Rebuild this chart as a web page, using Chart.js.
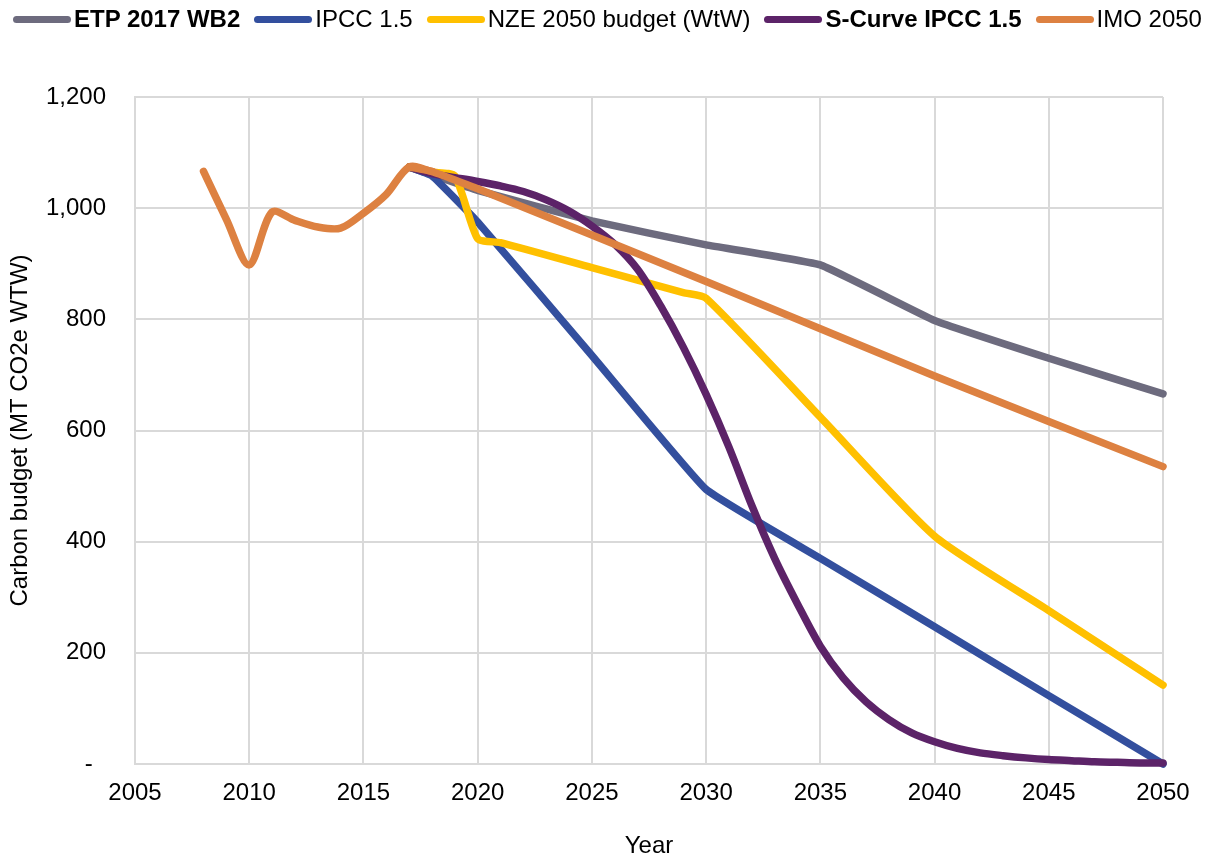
<!DOCTYPE html>
<html>
<head>
<meta charset="utf-8">
<title>Carbon budget</title>
<script src="https://cdn.jsdelivr.net/npm/chart.js@4/dist/chart.umd.min.js"></script>
<style>
  html, body { margin: 0; padding: 0; background: #fff; }
  #wrap { position: relative; width: 1214px; height: 861px; }
  #chart { position: absolute; left: 0; top: 0; }
  #legend {
    position: absolute; left: 13px; top: 1px; height: 36px;
    display: flex; align-items: center; gap: 14px;
    font-family: "Liberation Sans", Arial, sans-serif; font-size: 24px; color: #000;
    white-space: nowrap;
  }
  .item { display: flex; align-items: center; }
  .swatch { width: 58px; height: 7px; border-radius: 3.5px; margin-right: 3px; }
  .bold { font-weight: bold; }
</style>
</head>
<body>
<div id="wrap">
  <canvas id="chart" width="1214" height="861"></canvas>
  <div id="legend"></div>
</div>
<script>
  'use strict';

  // shared history 2008-2017 (same for every series)
  var histYears = [2008, 2009, 2010, 2011, 2012, 2013, 2014, 2015, 2016, 2017];
  var histValues = [1066, 980, 898, 993, 978, 966, 964, 991, 1025, 1074];

  var etpYears = [2018, 2020, 2025, 2030, 2035, 2040, 2045, 2050];
  var etpValues = [1060, 1032, 977, 934, 898, 798, 730, 666];

  var ipccYears = [2018, 2020, 2025, 2030, 2035, 2040, 2045, 2050];
  var ipccValues = [1058, 975, 735, 494, 370, 247, 123, 0];

  var nzeYears = [2018, 2019, 2020, 2021, 2025, 2029, 2030, 2035, 2040, 2045, 2050];
  var nzeValues = [1065, 1058, 945, 938, 893, 848, 838, 624, 410, 276, 142];

  var sYears = [2018, 2019, 2020, 2021, 2022, 2023, 2024, 2025, 2026, 2027, 2028, 2029, 2030,
    2031, 2032, 2033, 2034, 2035, 2036, 2037, 2038, 2039, 2040,
    2041, 2042, 2043, 2044, 2045, 2046, 2047, 2048, 2049, 2050];
  var sValues = [1062, 1055, 1048, 1040, 1030, 1015, 995, 968, 935, 890, 825, 750, 665,
    570, 465, 370, 288, 212, 155, 112, 80, 56, 40,
    28, 20, 15, 11, 8, 6, 4, 3, 2, 2];

  var imoYears = [2018, 2020, 2030, 2040, 2050];
  var imoValues = [1066, 1035, 868, 698, 535];

  var seriesNames = ['ETP 2017 WB2', 'IPCC 1.5', 'NZE 2050 budget (WtW)', 'S-Curve IPCC 1.5', 'IMO 2050'];
  var seriesColors = ['#6d6b7e', '#334f9e', '#ffc000', '#5c2368', '#dd8141'];
  var seriesBold = [true, false, false, true, false];
  var seriesTension = [0.1, 0.1, 0.2, 0.3, 0.1];

  var yTicks = [0, 200, 400, 600, 800, 1000, 1200];

  var FONT = '"Liberation Sans", Arial, sans-serif';
  var LINE_W = 7.5;

  function toPoints(xs, ys) {
    return xs.map(function (x, i) { return { x: x, y: ys[i] }; });
  }

  var allYears = [etpYears, ipccYears, nzeYears, sYears, imoYears];
  var allValues = [etpValues, ipccValues, nzeValues, sValues, imoValues];
  var lastHist = histYears.length - 1;

  // each series continues from the last common history year
  var datasets = seriesNames.map(function (name, i) {
    return {
      label: name,
      data: toPoints([histYears[lastHist]].concat(allYears[i]), [histValues[lastHist]].concat(allValues[i])),
      borderColor: seriesColors[i],
      borderWidth: LINE_W,
      borderCapStyle: 'round',
      borderJoinStyle: 'round',
      pointRadius: 0,
      tension: seriesTension[i],
      fill: false,
      clip: 8,
      order: seriesNames.length - i + 1
    };
  });

  // common history, drawn on top in the IMO colour (IMO is the top series),
  // carried one year into the IMO path so the 2017 peak stays rounded
  datasets.push({
    label: 'history',
    data: toPoints(histYears.concat(imoYears[0]), histValues.concat(imoValues[0])),
    borderColor: seriesColors[4],
    borderWidth: LINE_W,
    borderCapStyle: 'round',
    borderJoinStyle: 'round',
    pointRadius: 0,
    tension: 0.3,
    fill: false,
    clip: 8,
    order: 0
  });

  // legend
  var legend = document.getElementById('legend');
  seriesNames.forEach(function (name, i) {
    var item = document.createElement('div');
    item.className = 'item';
    var sw = document.createElement('span');
    sw.className = 'swatch';
    sw.style.background = seriesColors[i];
    var txt = document.createElement('span');
    txt.textContent = name;
    if (seriesBold[i]) txt.className = 'bold';
    item.appendChild(sw);
    item.appendChild(txt);
    legend.appendChild(item);
  });

  var gridColor = '#d9d9d9';

  new Chart(document.getElementById('chart'), {
    type: 'line',
    data: { datasets: datasets },
    options: {
      responsive: false,
      animation: false,
      layout: { padding: { top: 97, right: 51, bottom: 0, left: 0 } },
      plugins: {
        legend: { display: false },
        tooltip: { enabled: false }
      },
      scales: {
        x: {
          type: 'linear',
          min: 2005,
          max: 2050,
          ticks: {
            stepSize: 5,
            padding: 15,
            maxRotation: 0,
            autoSkip: false,
            color: '#000',
            font: { family: FONT, size: 24 },
            callback: function (v) { return String(v); }
          },
          grid: { color: gridColor, lineWidth: 2, drawTicks: false },
          border: { color: gridColor, width: 2 },
          title: {
            display: true,
            text: 'Year',
            color: '#000',
            font: { family: FONT, size: 24 },
            padding: { top: 0, bottom: 0 }
          },
          afterFit: function (s) { s.height = 97; }
        },
        y: {
          min: 0,
          max: 1200,
          afterBuildTicks: function (s) {
            s.ticks = yTicks.map(function (v) { return { value: v }; });
          },
          ticks: {
            padding: 29,
            color: '#000',
            font: { family: FONT, size: 24 },
            callback: function (v) { return v === 0 ? '-  ' : v.toLocaleString('en-US'); }
          },
          grid: { color: gridColor, lineWidth: 2, drawTicks: false },
          border: { color: gridColor, width: 2 },
          title: {
            display: true,
            text: 'Carbon budget (MT CO2e WTW)',
            color: '#000',
            font: { family: FONT, size: 24 },
            padding: { top: 6, bottom: 0 }
          },
          afterFit: function (s) { s.width = 135; }
        }
      }
    }
  });
</script>
</body>
</html>
